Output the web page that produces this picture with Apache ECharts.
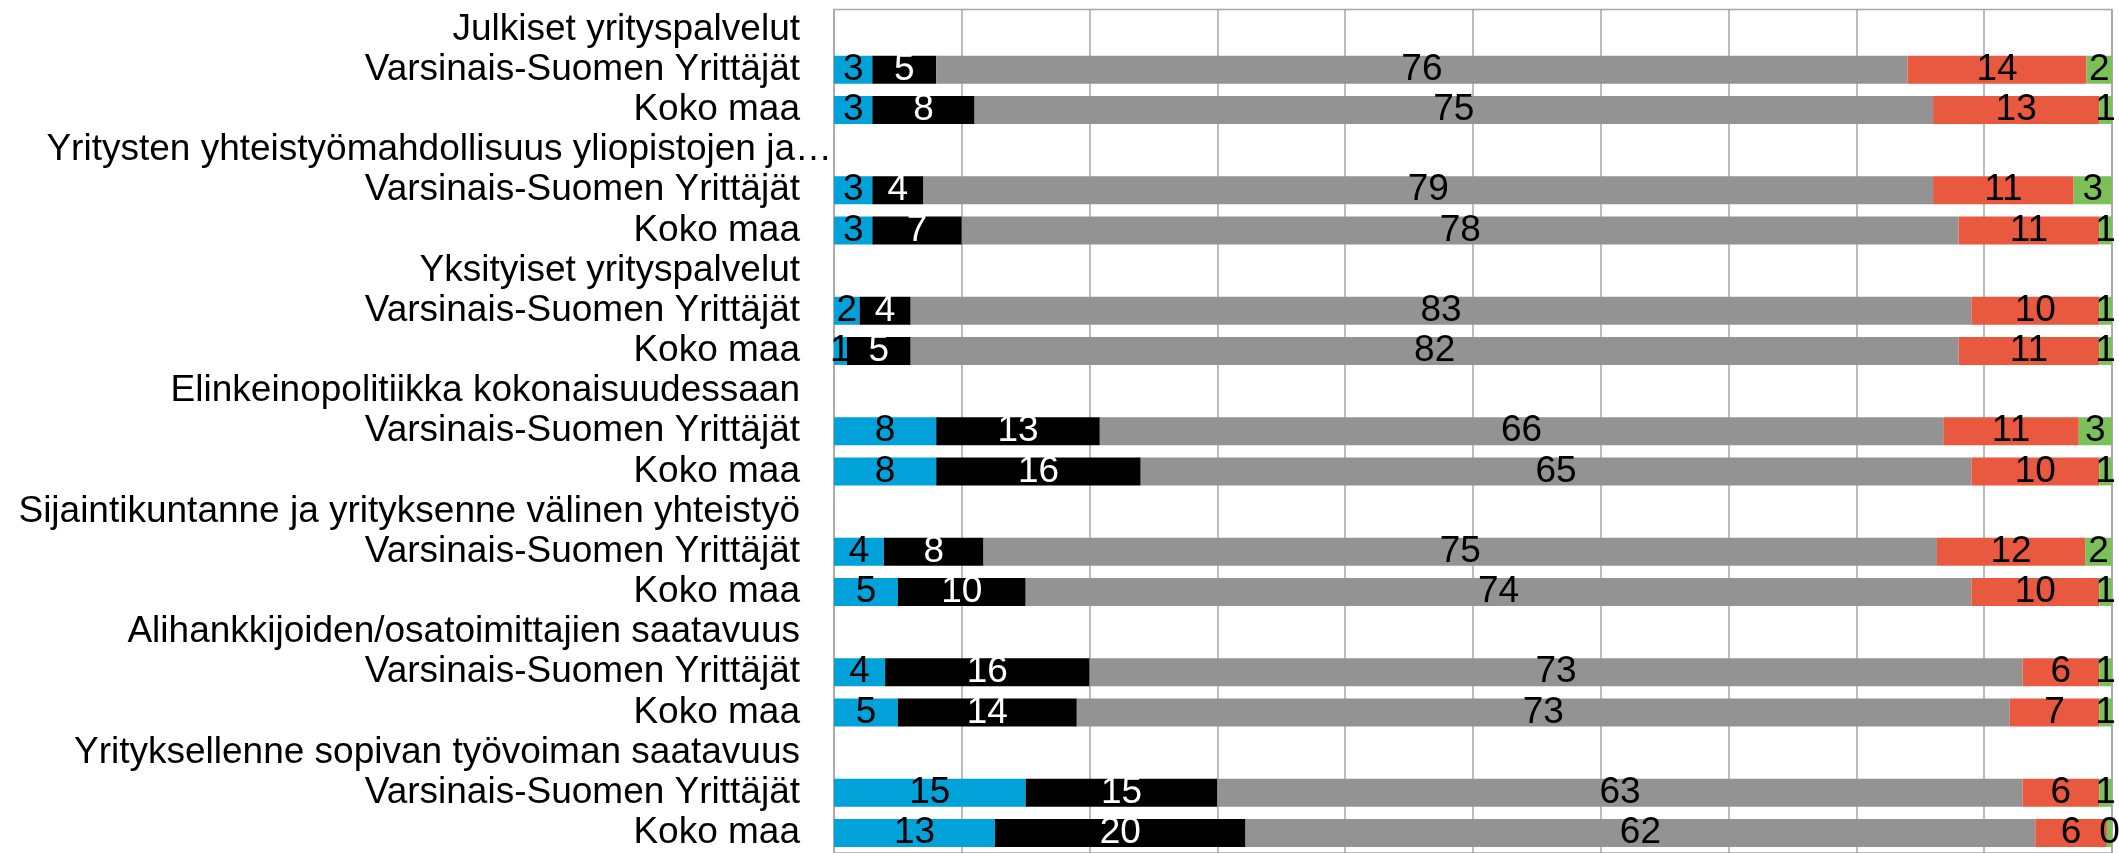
<!DOCTYPE html>
<html>
<head>
<meta charset="utf-8">
<script src="https://cdn.jsdelivr.net/npm/echarts@6/dist/echarts.min.js"></script>
<style>
  html, body { margin: 0; padding: 0; background: #ffffff; }
  #chart { width: 2119px; height: 853px; }
</style>
</head>
<body>
<div id="chart"></div>
<script>
const categories = [
  'Julkiset yrityspalvelut', 'Varsinais-Suomen Yrittäjät', 'Koko maa',
  'Yritysten yhteistyömahdollisuus yliopistojen ja…', 'Varsinais-Suomen Yrittäjät', 'Koko maa',
  'Yksityiset yrityspalvelut', 'Varsinais-Suomen Yrittäjät', 'Koko maa',
  'Elinkeinopolitiikka kokonaisuudessaan', 'Varsinais-Suomen Yrittäjät', 'Koko maa',
  'Sijaintikuntanne ja yrityksenne välinen yhteistyö', 'Varsinais-Suomen Yrittäjät', 'Koko maa',
  'Alihankkijoiden/osatoimittajien saatavuus', 'Varsinais-Suomen Yrittäjät', 'Koko maa',
  'Yrityksellenne sopivan työvoiman saatavuus', 'Varsinais-Suomen Yrittäjät', 'Koko maa'
];
const longLabel = 'Yritysten yhteistyömahdollisuus yliopistojen ja…';

const blueValues  = ['-', 3, 3, '-', 3, 3, '-', 2, 1, '-', 8.0, 8, '-', 3.9, 5, '-', 4, 5, '-', 15, 12.6];
const blackValues = ['-', 5, 8, '-', 4, 7, '-', 4, 5, '-', 12.8, 16, '-', 7.8, 10, '-', 16, 14, '-', 15, 19.6];
const greyValues  = ['-', 76, 75, '-', 79, 78, '-', 83, 82, '-', 66.0, 65, '-', 74.6, 74, '-', 73, 73, '-', 63, 61.8];
const redValues   = ['-', 14, 13, '-', 11, 11, '-', 10, 11, '-', 10.6, 10, '-', 11.6, 10, '-', 6, 7, '-', 6, 5.6];
const greenValues = ['-', 2, 1, '-', 3, 1, '-', 1, 1, '-', 2.6, 1, '-', 2.1, 1, '-', 1, 1, '-', 1, 0.4];

const FONT = "'Liberation Sans', Arial, sans-serif";
const FS = 37;

function mk(name, data, color, labelColor) {
  return {
    name: name,
    type: 'bar',
    stack: 'total',
    data: data,
    barWidth: 28,
    itemStyle: { color: color },
    label: {
      show: true,
      position: 'inside',
      color: labelColor,
      fontSize: FS,
      fontFamily: FONT,
      formatter: function (p) { return String(Math.round(p.value)); }
    },
    emphasis: { disabled: true },
    animation: false
  };
}

const chart = echarts.init(document.getElementById('chart'), null, { renderer: 'canvas' });
chart.setOption({
  backgroundColor: '#ffffff',
  animation: false,
  grid: {
    left: 834, top: 9.5, width: 1278, height: 849,
    show: true, borderColor: '#a6a6a6', borderWidth: 1.5, backgroundColor: 'transparent'
  },
  xAxis: {
    type: 'value', min: 0, max: 100, interval: 10,
    axisLabel: { show: false },
    axisLine: { show: false },
    axisTick: { show: false },
    splitLine: { show: true, lineStyle: { color: '#a6a6a6', width: 1.5 } }
  },
  yAxis: {
    type: 'category',
    inverse: true,
    data: categories,
    axisLine: { show: false },
    axisTick: { show: false },
    axisLabel: {
      interval: 0,
      hideOverlap: false,
      margin: 2,
      color: '#000000',
      fontFamily: FONT,
      fontSize: FS,
      formatter: function (v) { return v === longLabel ? '{l|' + v + '}' : '{n|' + v + '}'; },
      rich: {
        n: { fontSize: FS, fontFamily: FONT, color: '#000000', padding: [0, 32, 0, 0] },
        l: { fontSize: FS, fontFamily: FONT, color: '#000000' }
      }
    }
  },
  series: [
    mk('s1', blueValues, '#00a2d9', '#000000'),
    mk('s2', blackValues, '#000000', '#ffffff'),
    mk('s3', greyValues, '#939393', '#000000'),
    mk('s4', redValues, '#e95940', '#000000'),
    mk('s5', greenValues, '#7cc05a', '#000000')
  ]
});
</script>
</body>
</html>
